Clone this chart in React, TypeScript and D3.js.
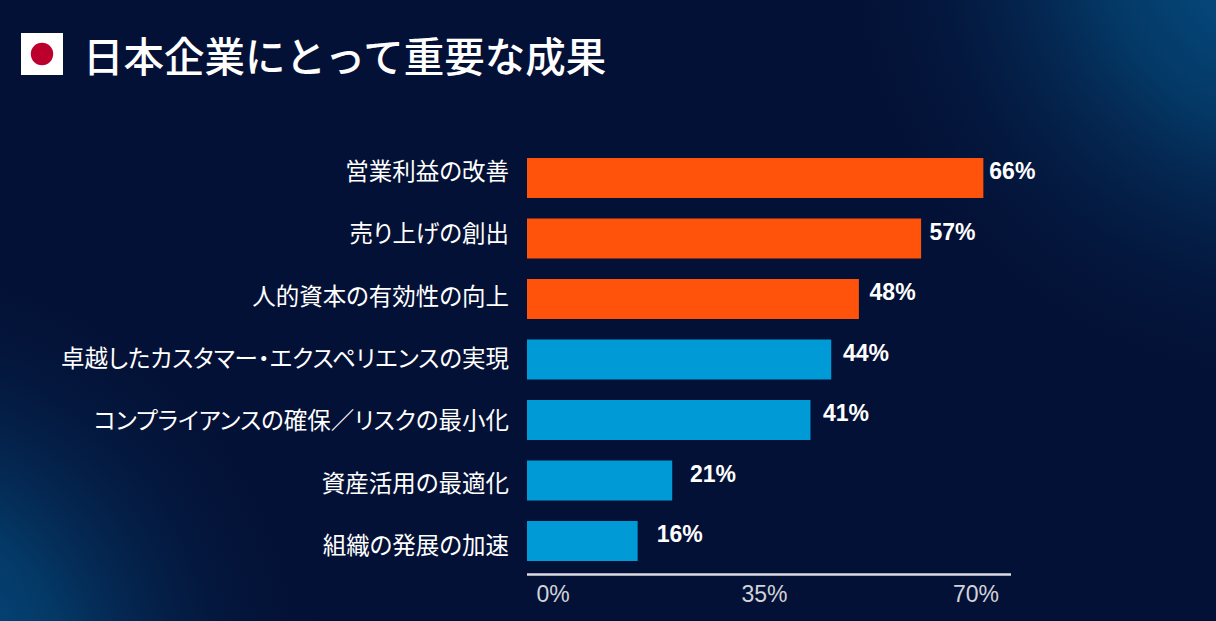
import React from 'react'
import * as d3 from 'd3'

// 日本企業にとって重要な成果
const categories = [
  '営業利益の改善',
  '売り上げの創出',
  '人的資本の有効性の向上',
  '卓越したカスタマー・エクスペリエンスの実現',
  'コンプライアンスの確保／リスクの最小化',
  '資産活用の最適化',
  '組織の発展の加速',
]
const values = [66, 57, 48, 44, 41, 21, 16]
const highlighted = [true, true, true, false, false, false, false]
const ticks = [0, 35, 70]
const title = '日本企業にとって重要な成果'

const W = 1216
const H = 621
const ORANGE = '#ff530b'
const BLUE = '#009bd6'
const JP = '"Noto Sans CJK JP", "Noto Sans", sans-serif'
const NUM = '"Liberation Sans", Arial, sans-serif'

const App = () => {
  const x = d3.scaleLinear().domain([0, 70]).range([527, 1011])
  const y = d3.scaleBand<string>().domain(categories).range([158, 561]).paddingInner(0.339).paddingOuter(0)
  // labels sit on a slightly wider pitch than the bars
  const yLabel = d3.scalePoint<string>().domain(categories).range([170, 544])
  const xTick = d3.scaleLinear().domain([0, 70]).range([553, 976])

  return (
    <svg width={W} height={H} style={{ position: 'absolute', left: 0, top: 0, display: 'block' }}>
      <defs>
        <radialGradient id="glowTR" cx="1290" cy="-60" r="470" gradientUnits="userSpaceOnUse">
          <stop offset="0" stopColor="#05568f" />
          <stop offset="0.4" stopColor="#04406f" stopOpacity="0.85" />
          <stop offset="1" stopColor="#041136" stopOpacity="0" />
        </radialGradient>
        <radialGradient id="glowBL" cx="-110" cy="680" r="440" gradientUnits="userSpaceOnUse">
          <stop offset="0" stopColor="#05568f" />
          <stop offset="0.4" stopColor="#04406f" stopOpacity="0.85" />
          <stop offset="1" stopColor="#041136" stopOpacity="0" />
        </radialGradient>
      </defs>
      <rect width={W} height={H} fill="#041136" />
      <rect width={W} height={H} fill="url(#glowTR)" />
      <rect width={W} height={H} fill="url(#glowBL)" />

      <rect x={21} y={33} width={42} height={42} fill="#ffffff" />
      <circle cx={42} cy={54} r={11.2} fill="#bc002d" />
      <text x={83} y={54} dominantBaseline="central" fill="#ffffff" fontFamily={JP} fontSize={40.5} fontWeight={500}>
        {title}
      </text>

      {categories.map((c, i) => (
        <g key={c}>
          <rect x={x(0)} y={y(c)} width={x(values[i]) - x(0)} height={y.bandwidth()} fill={highlighted[i] ? ORANGE : BLUE} />
          <text x={509} y={yLabel(c)} dominantBaseline="central" textAnchor="end" fill="#ffffff" fontFamily={JP}
            fontSize={23.5} style={{ fontFeatureSettings: '"palt"' }}>
            {c}
          </text>
          <text x={x(values[i]) + 6 + (66 - values[i]) * 0.26} y={(y(c) as number) + 21} fill="#ffffff" fontFamily={NUM}
            fontSize={23} fontWeight="bold">
            {values[i]}%
          </text>
        </g>
      ))}

      <line x1={x(0)} x2={x(70)} y1={574.5} y2={574.5} stroke="#dcdce2" strokeWidth={2.5} />
      {ticks.map((t) => (
        <text key={t} x={xTick(t)} y={602} textAnchor="middle" fill="#d2d3da" fontFamily={NUM} fontSize={23}>
          {t}%
        </text>
      ))}
    </svg>
  )
}

export default App
